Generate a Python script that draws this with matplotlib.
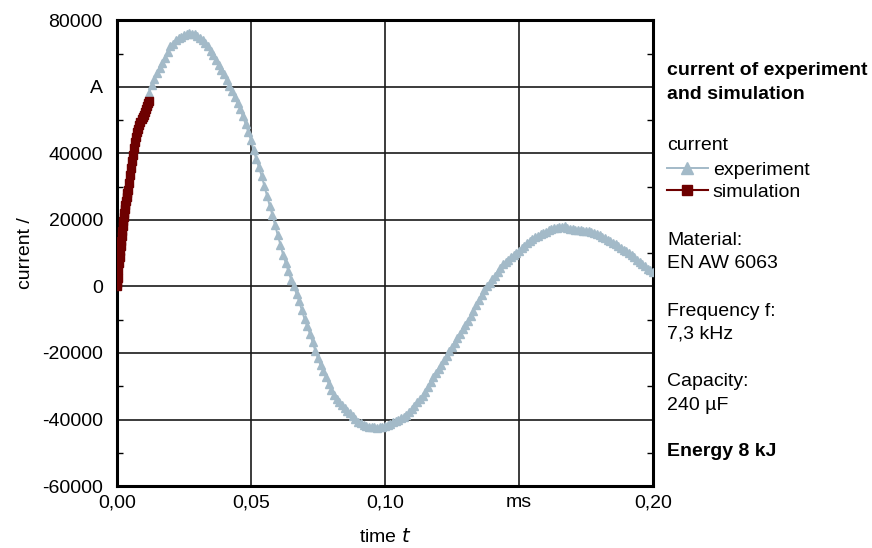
import matplotlib.pyplot as plt
from matplotlib.ticker import MultipleLocator

plt.rcParams['font.family'] = ['Liberation Sans', 'DejaVu Sans']

# experiment (time in ms, current in A)
exp_t = [0.012, 0.013, 0.014, 0.015, 0.016, 0.017, 0.018, 0.019, 0.020, 0.021,
         0.022, 0.023, 0.024, 0.025, 0.026, 0.027, 0.028, 0.029, 0.030, 0.031,
         0.032, 0.033, 0.034, 0.035, 0.036, 0.037, 0.038, 0.039, 0.040, 0.041,
         0.042, 0.043, 0.044, 0.045, 0.046, 0.047, 0.048, 0.049, 0.050, 0.051,
         0.052, 0.053, 0.054, 0.055, 0.056, 0.057, 0.058, 0.059, 0.060, 0.061,
         0.062, 0.063, 0.064, 0.065, 0.066, 0.067, 0.068, 0.069, 0.070, 0.071,
         0.072, 0.073, 0.074, 0.075, 0.076, 0.077, 0.078, 0.079, 0.080, 0.081,
         0.082, 0.083, 0.084, 0.085, 0.086, 0.087, 0.088, 0.089, 0.090, 0.091,
         0.092, 0.093, 0.094, 0.095, 0.096, 0.097, 0.098, 0.099, 0.100, 0.101,
         0.102, 0.103, 0.104, 0.105, 0.106, 0.107, 0.108, 0.109, 0.110, 0.111,
         0.112, 0.113, 0.114, 0.115, 0.116, 0.117, 0.118, 0.119, 0.120, 0.121,
         0.122, 0.123, 0.124, 0.125, 0.126, 0.127, 0.128, 0.129, 0.130, 0.131,
         0.132, 0.133, 0.134, 0.135, 0.136, 0.137, 0.138, 0.139, 0.140, 0.141,
         0.142, 0.143, 0.144, 0.145, 0.146, 0.147, 0.148, 0.149, 0.150, 0.151,
         0.152, 0.153, 0.154, 0.155, 0.156, 0.157, 0.158, 0.159, 0.160, 0.161,
         0.162, 0.163, 0.164, 0.165, 0.166, 0.167, 0.168, 0.169, 0.170, 0.171,
         0.172, 0.173, 0.174, 0.175, 0.176, 0.177, 0.178, 0.179, 0.180, 0.181,
         0.182, 0.183, 0.184, 0.185, 0.186, 0.187, 0.188, 0.189, 0.190, 0.191,
         0.192, 0.193, 0.194, 0.195, 0.196, 0.197, 0.198, 0.199, 0.200]
exp_i = [58000, 60500, 62500, 64300, 65800, 67300, 68800, 70600, 72400, 73000,
         74000, 74600, 75000, 75500, 75800, 76200, 76000, 75800, 75300, 74700,
         74000, 73200, 72200, 70900, 69500, 68000, 66500, 65200, 63800, 62000,
         60300, 58600, 56800, 55100, 53300, 51100, 48900, 46500, 44000, 41000,
         38200, 35800, 33200, 30200, 27200, 24300, 21500, 18400, 15500, 12500,
         9500, 7000, 4500, 2000, 0, -2200, -4500, -7200, -9800, -12000,
         -14200, -16800, -19300, -21600, -23700, -25500, -27300, -29200, -31000, -32500,
         -33800, -34800, -35600, -36500, -37300, -38100, -38900, -39800, -40600, -41100,
         -41500, -41900, -42100, -42300, -42300, -42400, -42300, -42100, -41900, -41600,
         -41200, -40800, -40400, -40000, -39600, -39100, -38600, -37700, -36800, -35800,
         -34800, -33900, -32900, -31600, -30200, -28700, -27300, -26100, -24800, -23500,
         -22200, -20800, -19500, -18300, -17000, -15600, -14300, -12900, -11600, -10300,
         -8900, -7300, -5700, -4100, -2600, -1200, 0, 1000, 2100, 3200,
         4300, 5500, 6600, 7300, 8000, 8800, 9500, 10100, 10800, 11500,
         12200, 13000, 13700, 14300, 14800, 15300, 15800, 16100, 16500, 16900,
         17300, 17500, 17700, 17800, 18000, 18100, 17600, 17300, 17200, 17100,
         17000, 16900, 16800, 16800, 16600, 16400, 16200, 15800, 15400, 15000,
         14600, 14100, 13600, 13200, 12700, 12100, 11600, 11100, 10600, 10100,
         9600, 8800, 8000, 7400, 6700, 6000, 5300, 4800, 4300]

# simulation
sim_t = [0.0000, 0.0002, 0.0004, 0.0006, 0.0008, 0.0010, 0.0012, 0.0014, 0.0016,
         0.0018, 0.0020, 0.0022, 0.0024, 0.0026, 0.0028, 0.0030, 0.0032, 0.0034,
         0.0036, 0.0038, 0.0040, 0.0044, 0.0048, 0.0052, 0.0056, 0.0060, 0.0064,
         0.0068, 0.0072, 0.0076, 0.0080, 0.0084, 0.0088, 0.0092, 0.0096, 0.0100,
         0.0104, 0.0108, 0.0112, 0.0116, 0.0120]
sim_i = [0, 1000, 2600, 4800, 7000, 9000, 10700, 12300, 13800,
         15300, 16800, 18300, 19800, 21000, 22200, 23400, 24600, 25800,
         27000, 28000, 29000, 31200, 33400, 35600, 37700, 39400, 41500,
         43300, 45000, 46300, 47400, 48400, 49300, 50200, 50900, 51600,
         52500, 53400, 54300, 55100, 55800]

x_ticks = [0.00, 0.05, 0.10, 0.15, 0.20]
x_labels = ['0,00', '0,05', '0,10', 'ms', '0,20']
y_ticks = [-60000, -40000, -20000, 0, 20000, 40000, 60000, 80000]
y_labels = ['-60000', '-40000', '-20000', '0', '20000', '40000', 'A', '80000']

exp_color = '#a3bac8'
sim_color = '#6e0000'
fs = 14

fig = plt.figure(figsize=(8.72, 5.48), dpi=100)
ax = fig.add_axes([0.134, 0.113, 0.615, 0.850])

ax.plot(exp_t, exp_i, color=exp_color, lw=1.4, marker='^', ms=6, mec=exp_color,
        mfc=exp_color, zorder=3, label='experiment')
ax.plot(sim_t, sim_i, color=sim_color, lw=1.5, marker='s', ms=5.5, mec=sim_color,
        mfc=sim_color, zorder=4, label='simulation')

ax.set_xlim(0, 0.20)
ax.set_ylim(-60000, 80000)
ax.set_xticks(x_ticks)
ax.set_xticklabels(x_labels)
ax.set_yticks(y_ticks)
ax.set_yticklabels(y_labels)
ax.yaxis.set_minor_locator(MultipleLocator(10000))
ax.tick_params(axis='both', which='major', length=0, labelsize=fs)
ax.tick_params(axis='y', which='major', pad=10)
ax.tick_params(axis='x', which='major', pad=6)
ax.tick_params(axis='y', which='minor', direction='in', length=4, width=1,
               left=True, right=True)
ax.grid(True, color='#1a1a1a', lw=1.2)
for s in ax.spines.values():
    s.set_linewidth(2.2)

ax.set_xlabel('time $\\mathit{t}$', fontsize=fs, labelpad=12)
ax.set_ylabel('current /', fontsize=fs, labelpad=6)

# right side text block
tx = 0.765
fig.text(tx, 0.849, 'current of experiment\nand simulation', fontsize=fs,
         fontweight='bold', va='center', linespacing=1.5)
leg = ax.legend(loc='upper left', bbox_to_anchor=(tx, 0.750),
                bbox_transform=fig.transFigure, frameon=False, title='current',
                fontsize=fs, title_fontsize=fs, handlelength=2.1,
                handletextpad=0.25, labelspacing=0.25, borderpad=0,
                borderaxespad=0, markerscale=1.4)
leg._legend_box.align = 'left'
leg._legend_box.sep = 5
fig.text(tx, 0.540, 'Material:\nEN AW 6063', fontsize=fs, va='center',
         linespacing=1.47)
fig.text(tx, 0.411, 'Frequency f:\n7,3 kHz', fontsize=fs, va='center',
         linespacing=1.47)
fig.text(tx, 0.282, 'Capacity:\n240 µF', fontsize=fs, va='center',
         linespacing=1.47)
fig.text(tx, 0.177, 'Energy 8 kJ', fontsize=fs, fontweight='bold',
         va='center')

fig.savefig('out.png', dpi=100)
